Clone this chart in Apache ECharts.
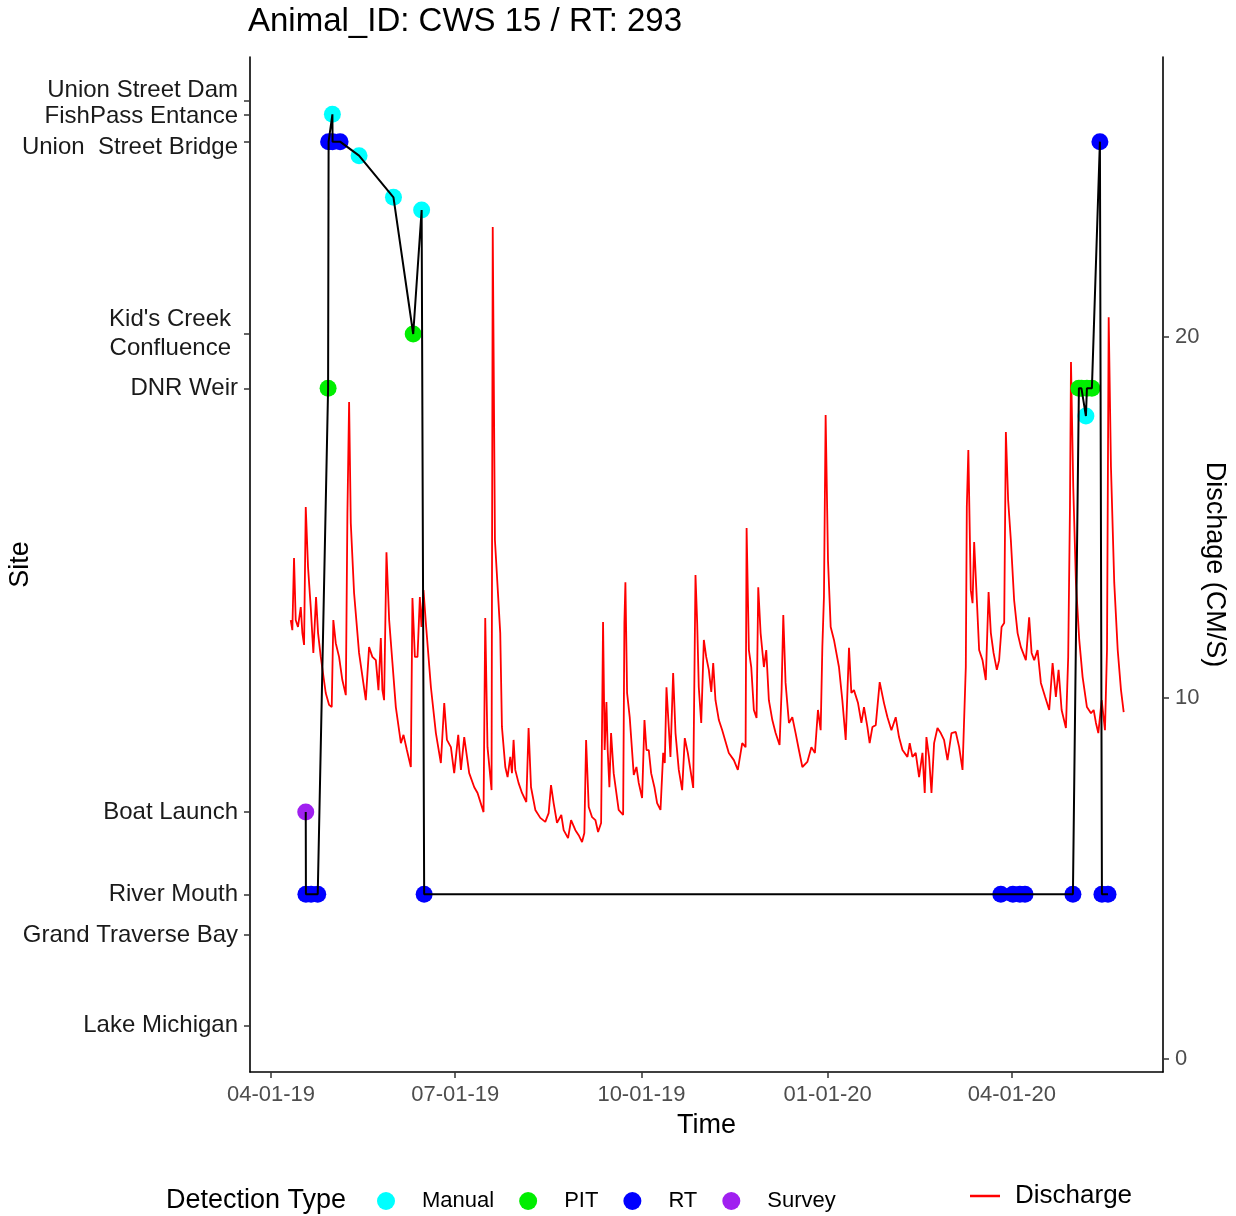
<!DOCTYPE html>
<html>
<head>
<meta charset="utf-8">
<script src="https://cdn.jsdelivr.net/npm/echarts@6.0.0/dist/echarts.min.js"></script>
<style>html,body{margin:0;padding:0;background:#fff}#c{width:1236px;height:1216px}</style>
</head>
<body>
<div id="c"></div>
<script>
// ---- Sites (left axis) ----
const SITE_NAMES = ['Union Street Dam', 'FishPass Entance', 'Union  Street Bridge', "Kid's Creek\nConfluence",
  'DNR Weir', 'Boat Launch', 'River Mouth', 'Grand Traverse Bay', 'Lake Michigan'];
const SITE_POS = [95.67, 94.35, 91.66, 72.71, 67.36, 25.62, 17.51, 13.50, 4.56];

// ---- Tick labels ----
const X_TICKS = ['2019-04-01', '2019-07-01', '2019-10-01', '2020-01-01', '2020-04-01'];
const Q_TICKS = [0, 10, 20];

// ---- Detections ----
const DET_TIME = ['2019-04-18 04:00', '2019-04-18 06:00', '2019-04-20 19:00', '2019-04-24 02:00', '2019-04-29 05:00',
  '2019-04-29 11:00', '2019-05-01 08:00', '2019-05-01 10:00', '2019-05-05 03:00', '2019-05-14 12:00',
  '2019-05-31 12:00', '2019-06-10 06:00', '2019-06-14 10:00', '2019-06-15 16:00', '2020-03-26 13:00',
  '2020-04-01 12:00', '2020-04-04 23:00', '2020-04-07 12:00', '2020-05-01 04:00', '2020-05-04 03:00',
  '2020-05-05 09:00', '2020-05-07 14:00', '2020-05-08 02:00', '2020-05-10 13:00', '2020-05-14 12:00',
  '2020-05-15 12:00', '2020-05-18 12:00'];
const DET_POS = [25.62, 17.51, 17.51, 17.51, 67.36,
  91.66, 94.35, 91.66, 91.66, 90.28,
  86.18, 72.71, 84.93, 17.51, 17.51,
  17.51, 17.51, 17.51, 17.51, 67.36,
  67.36, 64.63, 67.36, 67.36, 91.66,
  17.51, 17.51];
const DET_TYPE = ['Survey', 'RT', 'RT', 'RT', 'PIT',
  'RT', 'Manual', 'RT', 'RT', 'Manual',
  'Manual', 'PIT', 'Manual', 'RT', 'RT',
  'RT', 'RT', 'RT', 'RT', 'PIT',
  'PIT', 'Manual', 'PIT', 'PIT', 'RT',
  'RT', 'RT'];
const TYPES = ['Manual', 'PIT', 'RT', 'Survey'];
const TYPE_COLORS = ['#00ffff', '#00ee00', '#0000ff', '#a020f0'];

// ---- Discharge ----
const Q_TIME = [
'2019-04-10 18:00','2019-04-11 13:00','2019-04-12 09:00','2019-04-13 05:00','2019-04-14 08:00','2019-04-15 17:00','2019-04-16 12:00','2019-04-17 08:00','2019-04-18 04:00','2019-04-19 07:00',
'2019-04-20 15:00','2019-04-21 22:00','2019-04-23 06:00','2019-04-24 06:00','2019-04-25 14:00','2019-04-28 01:00','2019-04-29 17:00','2019-05-01 00:00','2019-05-01 19:00','2019-05-03 00:00',
'2019-05-04 15:00','2019-05-06 06:00','2019-05-07 23:00','2019-05-08 18:00','2019-05-09 14:00','2019-05-10 10:00','2019-05-12 01:00','2019-05-14 12:00','2019-05-17 20:00','2019-05-19 11:00',
'2019-05-21 02:00','2019-05-22 19:00','2019-05-24 02:00','2019-05-25 06:00','2019-05-26 01:00','2019-05-26 21:00','2019-05-28 01:00','2019-05-29 09:00','2019-05-31 00:00','2019-06-01 16:00',
'2019-06-04 04:00','2019-06-05 11:00','2019-06-07 03:00','2019-06-09 02:00','2019-06-09 21:00','2019-06-11 02:00','2019-06-12 09:00','2019-06-13 13:00','2019-06-14 08:00','2019-06-15 08:00',
'2019-06-16 12:00','2019-06-19 00:00','2019-06-21 11:00','2019-06-23 22:00','2019-06-25 14:00','2019-06-26 22:00','2019-06-28 21:00','2019-06-30 12:00','2019-07-02 12:00','2019-07-03 20:00',
'2019-07-05 11:00','2019-07-07 22:00','2019-07-10 10:00','2019-07-12 01:00','2019-07-15 00:00','2019-07-15 20:00','2019-07-16 23:00','2019-07-18 23:00','2019-07-19 13:00','2019-07-20 15:00',
'2019-07-23 06:00','2019-07-24 02:00','2019-07-25 18:00','2019-07-26 21:00','2019-07-28 05:00','2019-07-29 01:00','2019-07-29 20:00','2019-07-30 16:00','2019-08-01 07:00','2019-08-03 00:00',
'2019-08-05 03:00','2019-08-06 06:00','2019-08-07 11:00','2019-08-09 14:00','2019-08-12 01:00','2019-08-14 12:00','2019-08-16 04:00','2019-08-17 08:00','2019-08-18 15:00','2019-08-20 07:00',
'2019-08-22 10:00','2019-08-23 14:00','2019-08-25 18:00','2019-08-27 06:00','2019-08-29 09:00','2019-08-31 00:00','2019-09-01 16:00','2019-09-02 19:00','2019-09-03 16:00','2019-09-04 23:00',
'2019-09-06 15:00','2019-09-08 06:00','2019-09-09 14:00','2019-09-11 02:00','2019-09-12 01:00','2019-09-12 20:00','2019-09-13 17:00','2019-09-14 08:00','2019-09-15 04:00','2019-09-16 00:00',
'2019-09-17 07:00','2019-09-19 18:00','2019-09-21 23:00','2019-09-22 14:00','2019-09-23 02:00','2019-09-23 22:00','2019-09-25 05:00','2019-09-27 05:00','2019-09-28 13:00','2019-09-29 16:00',
'2019-10-01 08:00','2019-10-02 12:00','2019-10-03 12:00','2019-10-04 15:00','2019-10-05 19:00','2019-10-07 10:00','2019-10-08 18:00','2019-10-10 10:00','2019-10-11 18:00','2019-10-12 13:00',
'2019-10-13 09:00','2019-10-14 12:00','2019-10-15 08:00','2019-10-16 16:00','2019-10-17 20:00','2019-10-19 11:00','2019-10-21 03:00','2019-10-22 10:00','2019-10-23 22:00','2019-10-26 14:00',
'2019-10-27 17:00','2019-10-28 13:00','2019-10-29 08:00','2019-10-30 13:00','2019-10-31 20:00','2019-11-02 00:00','2019-11-03 07:00','2019-11-04 12:00','2019-11-05 11:00','2019-11-06 14:00',
'2019-11-08 06:00','2019-11-09 22:00','2019-11-13 04:00','2019-11-15 16:00','2019-11-17 15:00','2019-11-19 19:00','2019-11-21 11:00','2019-11-21 23:00','2019-11-23 02:00','2019-11-24 06:00',
'2019-11-25 13:00','2019-11-26 21:00','2019-11-27 17:00','2019-11-28 21:00','2019-11-30 12:00','2019-12-01 16:00','2019-12-02 23:00','2019-12-04 16:00','2019-12-06 07:00','2019-12-08 06:00',
'2019-12-09 06:00','2019-12-10 02:00','2019-12-11 05:00','2019-12-12 21:00','2019-12-14 13:00','2019-12-16 04:00','2019-12-17 19:00','2019-12-19 12:00','2019-12-21 23:00','2019-12-23 23:00',
'2019-12-25 17:00','2019-12-27 05:00','2019-12-28 13:00','2019-12-29 09:00','2019-12-30 04:00','2019-12-31 00:00','2020-01-01 04:00','2020-01-02 12:00','2020-01-04 03:00','2020-01-06 14:00',
'2020-01-08 06:00','2020-01-09 22:00','2020-01-11 13:00','2020-01-12 17:00','2020-01-14 00:00','2020-01-16 00:00','2020-01-17 16:00','2020-01-18 23:00','2020-01-20 15:00','2020-01-21 18:00',
'2020-01-23 03:00','2020-01-24 18:00','2020-01-26 17:00','2020-01-28 20:00','2020-01-30 13:00','2020-02-01 12:00','2020-02-03 15:00','2020-02-05 06:00','2020-02-06 23:00','2020-02-09 10:00',
'2020-02-10 13:00','2020-02-11 21:00','2020-02-13 12:00','2020-02-15 04:00','2020-02-16 20:00','2020-02-17 23:00','2020-02-18 19:00','2020-02-20 02:00','2020-02-21 07:00','2020-02-22 14:00',
'2020-02-24 06:00','2020-02-25 21:00','2020-02-27 12:00','2020-02-29 05:00','2020-03-02 04:00','2020-03-04 07:00','2020-03-05 23:00','2020-03-07 15:00','2020-03-09 06:00','2020-03-09 18:00',
'2020-03-10 12:00','2020-03-11 17:00','2020-03-12 14:00','2020-03-13 09:00','2020-03-14 17:00','2020-03-15 20:00','2020-03-17 12:00','2020-03-19 03:00','2020-03-20 12:00','2020-03-21 15:00',
'2020-03-22 23:00','2020-03-24 14:00','2020-03-25 17:00','2020-03-26 22:00','2020-03-28 05:00','2020-03-29 01:00','2020-03-30 04:00','2020-03-31 12:00','2020-04-02 03:00','2020-04-03 20:00',
'2020-04-05 11:00','2020-04-07 22:00','2020-04-09 13:00','2020-04-10 18:00','2020-04-12 01:00','2020-04-13 17:00','2020-04-15 08:00','2020-04-17 11:00','2020-04-19 11:00','2020-04-21 03:00',
'2020-04-22 18:00','2020-04-24 02:00','2020-04-25 14:00','2020-04-27 17:00','2020-04-28 20:00','2020-04-29 17:00','2020-04-30 05:00','2020-05-01 08:00','2020-05-02 16:00','2020-05-04 07:00',
'2020-05-05 23:00','2020-05-08 02:00','2020-05-10 02:00','2020-05-11 10:00','2020-05-12 13:00','2020-05-13 17:00','2020-05-15 09:00','2020-05-17 00:00','2020-05-18 00:00','2020-05-18 20:00',
'2020-05-19 23:00','2020-05-21 14:00','2020-05-23 07:00','2020-05-24 22:00','2020-05-26 06:00'];
const Q_VALUE = [
12.16,11.88,13.88,12.16,11.97,12.52,11.80,11.47,15.29,13.63,
12.52,11.25,12.80,11.80,11.14,10.14,9.81,9.75,12.16,11.52,
11.14,10.50,10.08,15.12,18.20,14.85,12.91,11.25,9.94,11.41,
11.14,11.05,10.22,11.66,10.22,9.94,14.04,12.16,10.97,9.75,
8.75,8.98,8.56,8.09,12.77,11.14,11.14,12.80,11.97,12.99,
12.08,10.30,9.03,8.20,9.86,8.84,8.64,7.92,8.98,8.01,
8.92,7.92,7.53,7.37,6.84,12.22,8.64,7.45,23.05,14.38,
11.80,9.20,8.09,7.81,8.37,7.92,8.84,8.01,7.65,7.37,
7.12,9.17,7.53,6.90,6.68,6.57,6.81,7.59,7.09,6.54,
6.76,6.34,6.12,6.62,6.34,6.20,6.01,6.26,8.84,6.98,
6.70,6.62,6.29,6.54,12.11,8.56,9.89,8.56,7.53,9.03,
7.92,6.90,6.76,12.08,13.21,10.14,9.47,7.87,8.09,7.65,
7.23,9.39,8.56,8.56,7.92,7.53,7.09,6.90,8.48,8.20,
10.30,9.20,8.37,10.69,9.03,8.01,7.45,8.89,8.48,7.51,
13.41,12.08,10.30,9.31,11.61,11.14,10.78,10.17,10.97,9.94,
9.39,9.11,8.48,8.28,8.01,8.75,8.64,14.71,11.33,10.86,
9.67,9.45,13.07,11.80,10.86,11.33,9.94,9.39,9.03,8.70,
10.22,12.30,10.42,9.31,9.47,9.03,8.56,8.09,8.23,8.64,
8.48,9.67,9.11,11.41,12.80,17.84,13.82,11.97,11.61,10.86,
9.94,8.84,11.39,10.14,10.22,9.86,9.31,9.75,9.20,8.75,
9.20,9.25,10.44,9.86,9.47,9.11,9.47,8.92,8.56,8.37,
8.75,8.37,8.48,7.81,8.48,7.37,8.92,8.37,7.37,8.75,
9.17,9.03,8.84,8.28,9.03,9.06,8.64,8.01,10.86,15.29,
16.87,12.99,12.63,14.32,12.71,11.33,11.05,10.50,12.94,11.80,
11.25,10.78,11.05,11.97,12.08,17.37,15.48,14.38,12.71,11.80,
11.41,11.05,12.24,11.25,11.05,11.33,10.42,10.03,9.67,10.97,
10.03,10.78,9.67,9.17,11.14,15.29,19.31,15.84,13.19,11.61,
10.58,9.75,9.58,9.67,9.31,9.03,9.94,9.11,11.33,20.55,
16.40,13.19,11.33,10.22,9.61];

function parseT(s) {
  const parts = s.split(' ');
  const d = parts[0].split('-').map(Number);
  const h = parts[1] ? Number(parts[1].split(':')[0]) : 0;
  return new Date(d[0], d[1] - 1, d[2], h).getTime();
}
function pad(n) { return (n < 10 ? '0' : '') + n; }

const FONT = 'Liberation Sans, Arial, sans-serif';

const siteRich = {
  s0: { fontSize: 24, fontFamily: FONT, color: '#1a1a1a', padding: [0, 0, 22, 0] },
  s1: { fontSize: 24, fontFamily: FONT, color: '#1a1a1a', padding: [4, 0, 0, 0] },
  s2: { fontSize: 24, fontFamily: FONT, color: '#1a1a1a', padding: [12, 0, 0, 0] },
  s3: { fontSize: 24, fontFamily: FONT, color: '#1a1a1a', lineHeight: 29, padding: [0, 7, 0, 0] },
  s4: { fontSize: 24, fontFamily: FONT, color: '#1a1a1a' },
  s5: { fontSize: 24, fontFamily: FONT, color: '#1a1a1a' },
  s6: { fontSize: 24, fontFamily: FONT, color: '#1a1a1a' },
  s7: { fontSize: 24, fontFamily: FONT, color: '#1a1a1a' },
  s8: { fontSize: 24, fontFamily: FONT, color: '#1a1a1a' }
};

const scatterSeries = TYPES.map((tp, k) => ({
  name: tp,
  type: 'scatter',
  xAxisIndex: 0,
  yAxisIndex: 0,
  symbol: 'circle',
  symbolSize: 17,
  itemStyle: { color: TYPE_COLORS[k], opacity: 1 },
  z: 3,
  data: DET_TIME.map((t, i) => DET_TYPE[i] === tp ? [parseT(t), DET_POS[i]] : null).filter(v => v)
}));

const chart = echarts.init(document.getElementById('c'));
chart.setOption({
  animation: false,
  backgroundColor: '#fff',
  textStyle: { fontFamily: FONT },
  title: [
    { text: 'Animal_ID: CWS 15 / RT: 293', left: 248, top: 5, padding: 0,
      textStyle: { fontSize: 33, fontWeight: 'normal', color: '#000', fontFamily: FONT } },
    { text: 'Detection Type', left: 166, top: 1187, padding: 0,
      textStyle: { fontSize: 27, fontWeight: 'normal', color: '#000', fontFamily: FONT } }
  ],
  legend: [
    { data: TYPES.map(n => ({ name: n, icon: 'circle' })),
      left: 377, top: 1190, orient: 'horizontal', padding: 0,
      itemWidth: 18, itemHeight: 18, itemGap: 25,
      textStyle: { fontSize: 22, color: '#000', fontFamily: FONT, padding: [0, 0, 0, 22] } },
    { data: [{ name: 'Discharge', icon: 'rect' }],
      left: 970, top: 1183, padding: 0,
      itemWidth: 30, itemHeight: 2.5,
      textStyle: { fontSize: 26, color: '#000', fontFamily: FONT, padding: [0, 0, 0, 10] } }
  ],
  grid: { left: 250, right: 73, top: 57, bottom: 144, containLabel: false, outerBoundsMode: 'none' },
  xAxis: {
    type: 'value',
    min: parseT('2019-03-21 15:00'),
    max: parseT('2020-06-14 16:00'),
    name: 'Time', nameLocation: 'middle', nameGap: 40, nameMoveOverlap: false,
    nameTextStyle: { fontSize: 27, color: '#000', fontFamily: FONT },
    axisLine: { show: true, lineStyle: { color: '#000', width: 1.6 } },
    axisTick: { show: true, customValues: X_TICKS.map(parseT), length: 6, lineStyle: { color: '#333', width: 1.5 } },
    axisLabel: {
      customValues: X_TICKS.map(parseT), margin: 12, fontSize: 22, color: '#4d4d4d', fontFamily: FONT,
      formatter: v => { const d = new Date(v); return pad(d.getMonth() + 1) + '-' + pad(d.getDate()) + '-' + pad(d.getFullYear() % 100); }
    },
    splitLine: { show: false }
  },
  yAxis: [
    {
      type: 'value', position: 'left', min: 0, max: 100,
      name: 'Site', nameLocation: 'middle', nameGap: 216, nameMoveOverlap: false,
      nameTextStyle: { fontSize: 27, color: '#000', fontFamily: FONT },
      axisLine: { show: true, lineStyle: { color: '#000', width: 1.6 } },
      axisTick: { show: true, customValues: SITE_POS, length: 6, lineStyle: { color: '#333', width: 1.5 } },
      axisLabel: {
        customValues: SITE_POS, margin: 12, fontSize: 24, color: '#1a1a1a', fontFamily: FONT,
        formatter: v => {
          let best = 0;
          SITE_POS.forEach((p, i) => { if (Math.abs(p - v) < Math.abs(SITE_POS[best] - v)) best = i; });
          return '{s' + best + '|' + SITE_NAMES[best] + '}';
        },
        rich: siteRich
      },
      splitLine: { show: false }
    },
    {
      type: 'value', position: 'right', min: -0.36, max: 27.76,
      name: 'Dischage (CM/S)', nameLocation: 'middle', nameRotate: -90, nameGap: 38, nameMoveOverlap: false,
      nameTextStyle: { fontSize: 27, color: '#000', fontFamily: FONT },
      axisLine: { show: true, lineStyle: { color: '#000', width: 1.6 } },
      axisTick: { show: true, customValues: Q_TICKS, length: 6, lineStyle: { color: '#333', width: 1.5 } },
      axisLabel: { customValues: Q_TICKS, margin: 12, fontSize: 22, color: '#4d4d4d', fontFamily: FONT },
      splitLine: { show: false }
    }
  ],
  series: [
    {
      name: 'Discharge', type: 'line', xAxisIndex: 0, yAxisIndex: 1,
      showSymbol: false, symbol: 'none',
      lineStyle: { color: '#ff0000', width: 1.8 },
      itemStyle: { color: '#ff0000' },
      z: 2,
      data: Q_TIME.map((t, i) => [parseT(t), Q_VALUE[i]])
    },
    ...scatterSeries,
    {
      name: 'track', type: 'line', xAxisIndex: 0, yAxisIndex: 0,
      showSymbol: false, symbol: 'none',
      lineStyle: { color: '#000', width: 2 },
      itemStyle: { color: '#000' },
      z: 4,
      data: DET_TIME.map((t, i) => [parseT(t), DET_POS[i]])
    }
  ]
});
</script>
</body>
</html>
